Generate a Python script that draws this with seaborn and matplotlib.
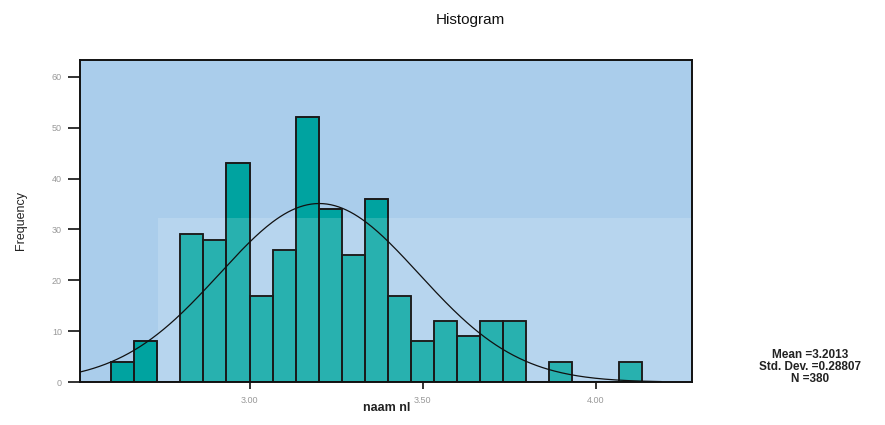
import numpy as np
import pandas as pd
import seaborn as sns
import matplotlib.pyplot as plt
from matplotlib.patches import Rectangle

# -------------------------------------------------------------------
# Data (bin width 1/15, first edge at 2.60)
# -------------------------------------------------------------------
bin_start = 2.60
bin_width = 1 / 15
counts = [4, 8, 0, 29, 28, 43, 17, 26, 52, 34, 25, 36,
          17, 8, 12, 9, 12, 12, 0, 4, 0, 0, 4]

mean_val = 3.2013
sd_val = 0.28807
n_val = 380

x_ticks = [3.00, 3.50, 4.00]
y_ticks = [0, 10, 20, 30, 40, 50, 60]

edges = bin_start + bin_width * np.arange(len(counts) + 1)
centers = (edges[:-1] + edges[1:]) / 2
df = pd.DataFrame({"value": centers, "count": counts})

# fitted normal curve, scaled to counts
xs = np.linspace(2.51, 4.19, 300)
curve = n_val * bin_width * np.exp(-0.5 * ((xs - mean_val) / sd_val) ** 2) / (sd_val * np.sqrt(2 * np.pi))
curve_df = pd.DataFrame({"x": xs, "y": curve})

# -------------------------------------------------------------------
# Plot
# -------------------------------------------------------------------
sns.set_style("white")
plt.rcParams["font.family"] = ["Liberation Sans", "DejaVu Sans"]

fig = plt.figure(figsize=(8.85, 4.25), dpi=100)
ax = fig.add_axes([0.0904, 0.101, 0.692, 0.758])
ax.set_facecolor("#aacdeb")

sns.histplot(data=df, x="value", weights="count", bins=list(edges),
             color="#00a3a0", alpha=1, edgecolor="#1a1a1a", linewidth=1.2, ax=ax)

# faint lighter patch in the lower-right of the plot area (bars keep dark edges)
ax.add_patch(Rectangle((2.735, 0), 4.28 - 2.735, 32.3, facecolor="white",
                       alpha=0.16, edgecolor="none", zorder=1.5))
for p in ax.patches[:len(counts)]:
    p.set_zorder(1)
    outline = Rectangle(p.get_xy(), p.get_width(), p.get_height(), fill=False,
                        edgecolor="#1a1a1a", linewidth=1.2, zorder=2)
    ax.add_patch(outline)

sns.lineplot(data=curve_df, x="x", y="y", color="#111111", linewidth=0.9, ax=ax, zorder=3)

ax.set_xlim(2.51, 4.28)
ax.set_ylim(0, 63.3)
ax.set_xticks(x_ticks)
ax.set_xticklabels([f"{t:.2f}" for t in x_ticks])
ax.set_yticks(y_ticks)

for side in ["left", "right", "top", "bottom"]:
    ax.spines[side].set_visible(True)
    ax.spines[side].set_color("#111111")
    ax.spines[side].set_linewidth(1.4)

ax.tick_params(axis="y", direction="out", length=9, width=1.2, color="#111111",
               labelsize=6.5, labelcolor="#999999", left=True, pad=4)
ax.tick_params(axis="x", direction="out", length=5, width=1.2, color="#111111",
               labelsize=6.5, labelcolor="#999999", bottom=True, pad=5)

ax.set_xlabel("naam nl", fontsize=9, fontweight="bold", color="#222222", labelpad=-2)
ax.set_ylabel("Frequency", fontsize=9, color="#222222", labelpad=18)
fig.text(0.531, 0.953, "Histogram", ha="center", va="center", fontsize=11, color="#111111")

fig.text(0.915, 0.136, f"Mean ={mean_val}\nStd. Dev. ={sd_val}\nN ={n_val}",
         ha="center", va="center", fontsize=8.5, fontweight="bold",
         color="#222222", linespacing=1.0)

plt.savefig("out.png", dpi=100)
plt.close()
